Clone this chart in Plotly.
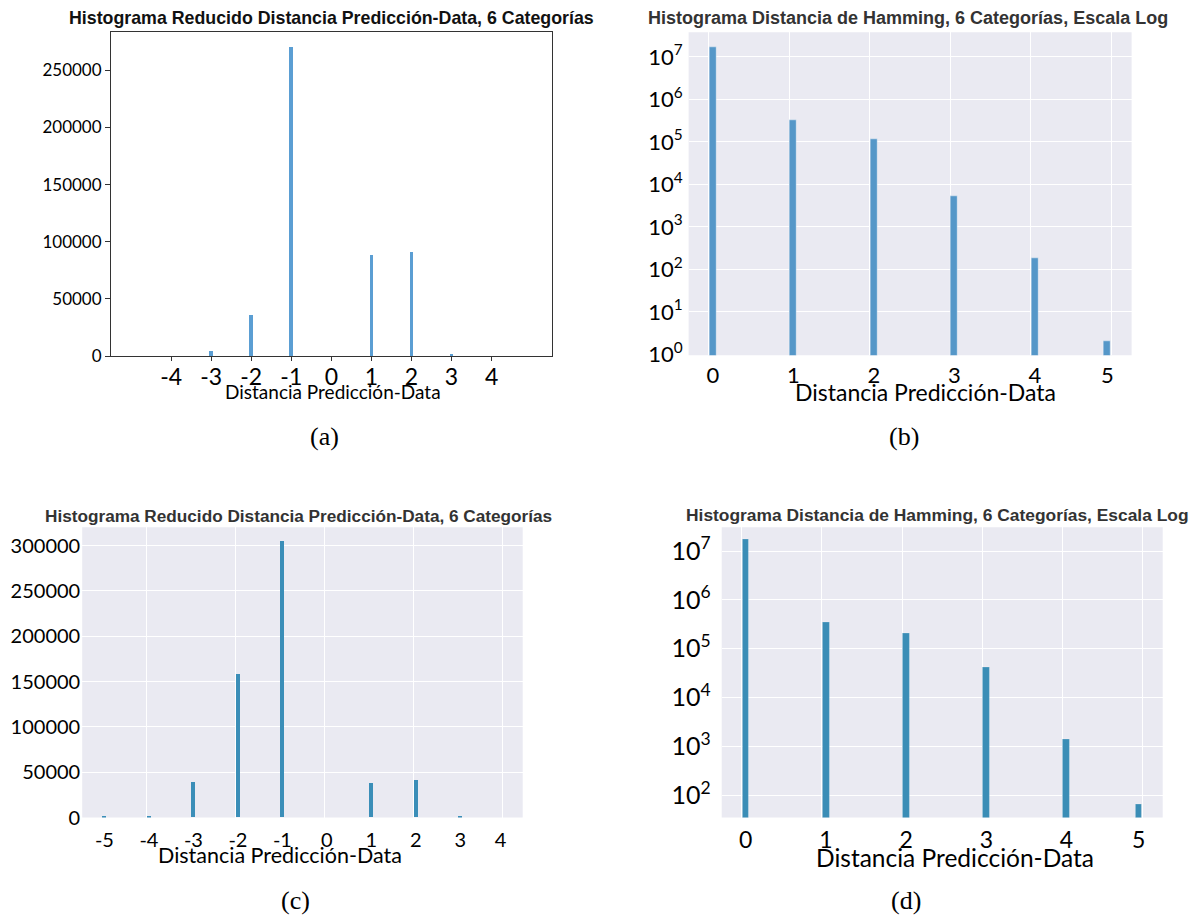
import math
import plotly.graph_objects as go

W, H = 1193, 921

# (a) signed prediction-minus-data distance, linear counts
dist_a = [-4, -3, -2, -1, 0, 1, 2, 3, 4]
count_a = [0, 4300, 35900, 269800, 0, 88300, 90500, 1500, 0]
yticks_a = [0, 50000, 100000, 150000, 200000, 250000]

# (b) Hamming distance, log counts
dist_b = [0, 1, 2, 3, 4, 5]
count_b = [16800000, 327000, 116000, 5400, 186, 2]
exp_b = [0, 1, 2, 3, 4, 5, 6, 7]

# (c) signed distance, second model
dist_c = [-5, -4, -3, -2, -1, 0, 1, 2, 3, 4]
count_c = [400, 1000, 38600, 158000, 305000, 0, 37500, 40700, 1400, 0]
yticks_c = [0, 50000, 100000, 150000, 200000, 250000, 300000]

# (d) Hamming distance, second model, log counts
dist_d = [0, 1, 2, 3, 4, 5]
count_d = [17100000, 350000, 204000, 42000, 1400, 65]
exp_d = [2, 3, 4, 5, 6, 7]

TICK_FONT = "Lato, 'Open Sans', sans-serif"
TITLE_FONT = "'Liberation Sans', Arial, sans-serif"
CAP_FONT = "'Liberation Serif', 'DejaVu Serif', serif"
SEABORN_BG = "#EAEAF2"


def bin_centres(values, lo, hi, width):
    """Centre of the histogram bin (fixed width, last bin closed) holding each value."""
    n = int(round((hi - lo) / width))
    out = []
    for v in values:
        i = min(int(math.floor((v - lo) / width + 1e-9)), n - 1)
        out.append(lo + (i + 0.5) * width)
    return out


def xdom(left, right):
    return [left / W, right / W]


def ydom(top, bottom):
    return [1 - bottom / H, 1 - top / H]


def px(x):
    return x / W


def py(y):
    return 1 - y / H


xb = bin_centres(dist_b, 0, 5, 0.1)
xc = bin_centres(dist_c, -5, 4, 0.1)
xd = bin_centres(dist_d, 0, 5, 0.1)

fig = go.Figure()

fig.add_trace(go.Bar(x=dist_a, y=count_a, width=0.09, xaxis="x", yaxis="y",
                     marker=dict(color="#5B9ED3", line=dict(width=0))))
fig.add_trace(go.Bar(x=xb, y=count_b, width=0.088, xaxis="x2", yaxis="y2",
                     marker=dict(color="#5597C8", line=dict(color="rgba(255,255,255,0.45)", width=0.8))))
fig.add_trace(go.Bar(x=xc, y=count_c, width=0.095, xaxis="x3", yaxis="y3",
                     marker=dict(color="#3B8EB8", line=dict(width=0))))
fig.add_trace(go.Bar(x=xd, y=count_d, width=0.085, xaxis="x4", yaxis="y4",
                     marker=dict(color="#3A8DB6", line=dict(color="rgba(255,255,255,0.35)", width=0.6))))

layout = dict(
    width=W, height=H, margin=dict(l=0, r=0, t=0, b=0),
    paper_bgcolor="white", plot_bgcolor="white", showlegend=False,
    bargap=0,
    # (a) framed, no grid
    xaxis=dict(domain=xdom(111, 551.7), anchor="y", range=[-5.5, 5.5],
               tickmode="array", tickvals=dist_a, ticktext=[str(v) for v in dist_a],
               ticks="outside", ticklen=4, tickcolor="#333", showgrid=False, zeroline=False,
               showline=True, mirror=True, linecolor="#333", linewidth=1,
               tickfont=dict(family=TICK_FONT, size=23, color="black"), ticklabelstandoff=-4),
    yaxis=dict(domain=ydom(32.7, 360.7), anchor="x", range=[0, 283300],
               tickmode="array", tickvals=yticks_a, ticktext=[str(v) for v in yticks_a],
               ticks="outside", ticklen=5, tickcolor="#333", showgrid=False, zeroline=False,
               showline=True, mirror=True, linecolor="#333", linewidth=1,
               tickfont=dict(family=TICK_FONT, size=17, color="black"), ticklabelstandoff=0),
    # (b) log, seaborn style
    xaxis2=dict(domain=xdom(688.6, 1131.6), anchor="y2", range=[-0.25, 5.25],
                tickmode="array", tickvals=xb, ticktext=[str(v) for v in dist_b],
                ticks="", showgrid=False, zeroline=False, showline=False,
                minor=dict(tickmode="array", tickvals=dist_b, showgrid=True,
                           gridcolor="white", gridwidth=1.3, ticks=""),
                tickfont=dict(family=TICK_FONT, size=22, color="black"), ticklabelstandoff=5),
    yaxis2=dict(domain=ydom(32.7, 360), anchor="x2", type="log", range=[-0.02, 7.58],
                tickmode="array", tickvals=[10 ** k for k in exp_b],
                ticktext=[f"10<sup>{k}</sup>" for k in exp_b],
                ticks="", showgrid=True, gridcolor="white", gridwidth=1.3, zeroline=False,
                tickfont=dict(family=TICK_FONT, size=22, color="black"), ticklabelstandoff=5),
    # (c) linear, seaborn style
    xaxis3=dict(domain=xdom(82.2, 522.7), anchor="y3", range=[-5.45, 4.45],
                tickmode="array", tickvals=xc, ticktext=[str(v) for v in dist_c],
                ticks="", showgrid=False, zeroline=False, showline=False,
                minor=dict(tickmode="array", tickvals=[-4, -2, 0, 2, 4], showgrid=True,
                           gridcolor="white", gridwidth=1.3, ticks=""),
                tickfont=dict(family=TICK_FONT, size=20, color="black"), ticklabelstandoff=8),
    yaxis3=dict(domain=ydom(534.3, 828.3), anchor="x3", range=[0, 320250],
                tickmode="array", tickvals=yticks_c, ticktext=[str(v) for v in yticks_c],
                ticks="", showgrid=True, gridcolor="white", gridwidth=1.3, zeroline=False,
                tickfont=dict(family=TICK_FONT, size=20, color="black"), ticklabelstandoff=1),
    # (d) log, seaborn style
    xaxis4=dict(domain=xdom(721.7, 1162.7), anchor="y4", range=[-0.25, 5.25],
                tickmode="array", tickvals=xd, ticktext=[str(v) for v in dist_d],
                ticks="", showgrid=False, zeroline=False, showline=False,
                minor=dict(tickmode="array", tickvals=dist_d, showgrid=True,
                           gridcolor="white", gridwidth=1.3, ticks=""),
                tickfont=dict(family=TICK_FONT, size=23, color="black"), ticklabelstandoff=6),
    yaxis4=dict(domain=ydom(534.3, 828.3), anchor="x4", type="log", range=[1.545, 7.485],
                tickmode="array", tickvals=[10 ** k for k in exp_d],
                ticktext=[f"10<sup>{k}</sup>" for k in exp_d],
                ticks="", showgrid=True, gridcolor="white", gridwidth=1.3, zeroline=False,
                tickfont=dict(family=TICK_FONT, size=25, color="black"), ticklabelstandoff=10),
)
fig.update_layout(**layout)

# seaborn-style panel backgrounds
for ax in ["x2", "x3", "x4"]:
    yref = "y" + ax[1:]
    fig.add_shape(type="rect", xref=f"{ax} domain", yref=f"{yref} domain",
                  x0=0, x1=1, y0=0, y1=1, fillcolor=SEABORN_BG, line=dict(width=0), layer="below")

titles = [
    ("Histograma Reducido Distancia Predicción-Data, 6 Categorías", 331, 18.3, 17.8, "#111111"),
    ("Histograma Distancia de Hamming, 6 Categorías, Escala Log", 908, 18.3, 18, "#333333"),
    ("Histograma Reducido Distancia Predicción-Data, 6 Categorías", 298, 522.7, 17.2, "#333333"),
    ("Histograma Distancia de Hamming, 6 Categorías, Escala Log", 937, 522.3, 17.4, "#333333"),
]
for text, x, y, size, color in titles:
    fig.add_annotation(text=f"<b>{text}</b>", x=px(x), y=py(y), xref="paper", yref="paper",
                       xanchor="center", yanchor="middle", showarrow=False,
                       font=dict(family=TITLE_FONT, size=size, color=color))

xlabels = [(332.5, 397, 19), (925, 397.5, 23), (280, 866, 21.5), (955, 869, 24.5)]
for x, y, size in xlabels:
    fig.add_annotation(text="Distancia Predicción-Data", x=px(x), y=py(y), xref="paper", yref="paper",
                       xanchor="center", yanchor="middle", showarrow=False,
                       font=dict(family=TICK_FONT, size=size, color="black"))

captions = [("(a)", 324, 442), ("(b)", 904, 442), ("(c)", 295, 912), ("(d)", 906, 912)]
for text, x, y in captions:
    fig.add_annotation(text=text, x=px(x), y=py(y), xref="paper", yref="paper",
                       xanchor="center", yanchor="middle", showarrow=False,
                       font=dict(family=CAP_FONT, size=26, color="black"))

fig.write_html("out.html")
